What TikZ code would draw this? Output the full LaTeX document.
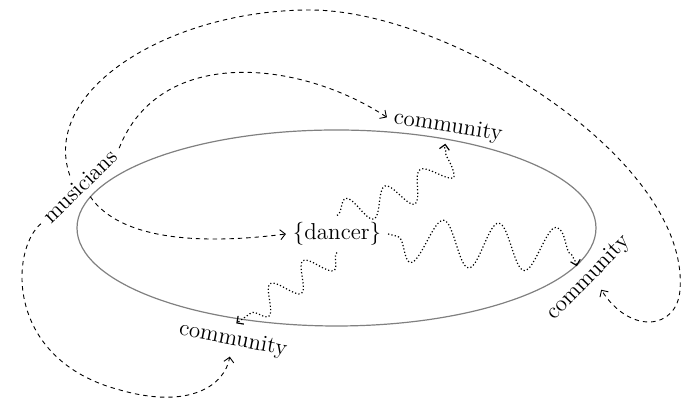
\documentclass[tikz,border=0pt]{standalone}
\usetikzlibrary{decorations.pathmorphing,arrows.meta}
\tikzset{dcLabel/.style={font=\fontsize{11.5}{13}\selectfont},
 dcFlow/.style={dash pattern=on 2.2pt off 2pt,line width=0.45pt,-{Straight Barb[length=2.5pt,width=5pt]}},
 dcWave/.style={dash pattern=on 0.6pt off 1.1pt,line width=0.6pt,decorate,-{Straight Barb[length=2.5pt,width=5pt]}},
 dcRing/.style={draw=gray,line width=0.6pt}}
\begin{document}
\begin{tikzpicture}[x=0.5pt,y=0.5pt]
\useasboundingbox (0,0) rectangle (682,400);
\draw[dcRing] (336.5,172) ellipse [x radius=259.5,y radius=98];
\node[dcLabel,rotate=44] (mus) at (80,214) {musicians};
\node[dcLabel] (dan) at (337,166) {\{dancer\}};
\node[dcLabel,rotate=-9] (cTop) at (448,273) {community};
\node[dcLabel,rotate=46] (cRight) at (589,122) {community};
\node[dcLabel,rotate=-11] (cBot) at (233,60) {community};
% musicians to the communities and the dancer
\draw[dcFlow] (mus.east) .. controls (160,355) and (300,340) .. (cTop.west);
\draw[dcFlow] (mus.north) .. controls (40,310) and (170,390) .. (310,390)
 .. controls (450,390) and (690,240) .. (680,110)
 .. controls (677,70) and (630,65) .. (cRight.south);
\draw[dcFlow] (mus.south) .. controls (120,160) and (200,155) .. (dan.west);
\draw[dcFlow] (mus.west) .. controls (10,150) and (5,40) .. (120,10)
 .. controls (190,-10) and (225,15) .. (cBot.south);
% dancer out to the communities
\draw[dcWave,decoration={snake,amplitude=7pt,segment length=21pt,post length=2pt}]
 (dan.north) .. controls (390,200) and (440,215) .. (cTop.south);
\draw[dcWave,decoration={snake,mirror,amplitude=11.5pt,segment length=28pt,pre length=5pt,post length=2pt}]
 (dan.east) .. controls (440,150) and (575,165) .. (cRight.north);
\draw[dcWave,decoration={snake,amplitude=6.5pt,segment length=20pt,post length=2pt}] (dan.south) -- (cBot.north);
\end{tikzpicture}
\end{document}
